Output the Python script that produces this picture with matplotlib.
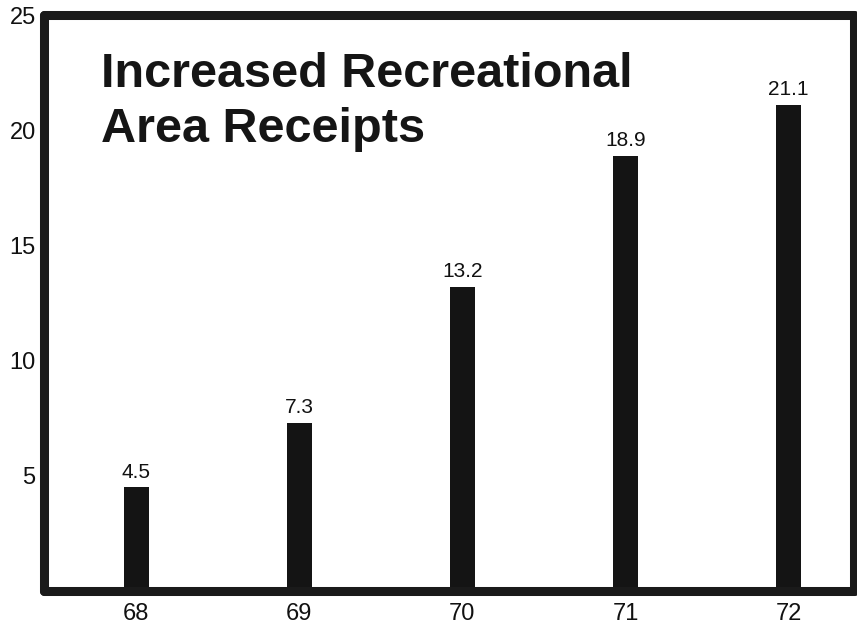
import matplotlib.pyplot as plt

# data
years = [68, 69, 70, 71, 72]
receipts = [4.5, 7.3, 13.2, 18.9, 21.1]
value_labels = ['4.5', '7.3', '13.2', '18.9', '21.1']
yticks = [5, 10, 15, 20, 25]
title_lines = ['Increased Recreational', 'Area Receipts']

plt.rcParams['font.family'] = ['Liberation Sans', 'DejaVu Sans']

fig = plt.figure(figsize=(8.57, 6.26), dpi=100)
ax = fig.add_axes([44 / 857, 1 - 591 / 626, 810 / 857, 576 / 626])

ax.bar(years, receipts, width=0.153, color='#141414', zorder=1)
for x, v, s in zip(years, receipts, value_labels):
    ax.text(x, v + 0.25, s, ha='center', va='bottom', fontsize=15, color='#111')

ax.set_xlim(67.436, 72.40)
ax.set_ylim(0, 25)
ax.set_xticks(years)
ax.set_xticklabels([str(y) for y in years])
ax.set_yticks(yticks)
ax.tick_params(length=0, labelsize=17, colors='#111')
ax.tick_params(axis='x', pad=9)
ax.tick_params(axis='y', pad=6)

for sp in ax.spines.values():
    sp.set_linewidth(6.5)
    sp.set_color('#1a1a1a')
    sp.set_capstyle('round')

# title, one text per line, baselines at ~87 and ~142 px
for line, ybase in zip(title_lines, [87, 142]):
    ax.text(0.07, 1 - (ybase - 15) / 576, line, transform=ax.transAxes,
            fontsize=35, fontweight='bold', color='#151515', ha='left',
            va='baseline')

fig.savefig('out.png', dpi=100)
